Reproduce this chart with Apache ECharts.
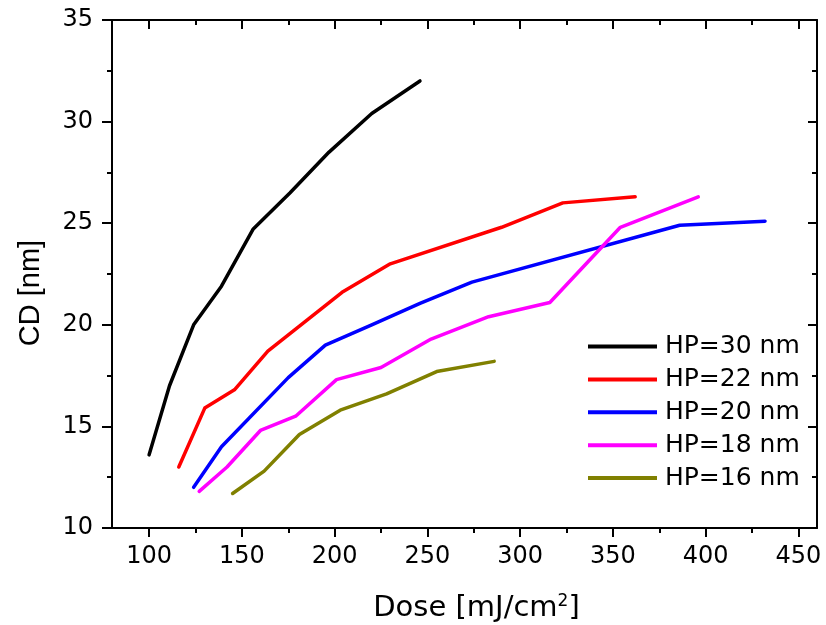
<!DOCTYPE html>
<html>
<head>
<meta charset="utf-8">
<script src="https://cdn.jsdelivr.net/npm/echarts@6/dist/echarts.min.js"></script>
<style>html,body{margin:0;padding:0;background:#fff;}#chart{width:826px;height:625px;}</style>
</head>
<body>
<div id="chart"></div>
<script>
// ---- data ----
const seriesNames = ['HP=30 nm', 'HP=22 nm', 'HP=20 nm', 'HP=18 nm', 'HP=16 nm'];
const doseHP30 = [100, 111, 124, 139, 156, 176, 197, 220, 246];
const cdHP30   = [13.6, 17.0, 20.0, 21.9, 24.7, 26.5, 28.5, 30.4, 32.0];
const doseHP22 = [116, 130, 146, 164, 204, 230, 290, 323, 362];
const cdHP22   = [13.0, 15.9, 16.8, 18.7, 21.6, 23.0, 24.8, 26.0, 26.3];
const doseHP20 = [124, 139, 175, 195, 220, 246, 274, 386, 432];
const cdHP20   = [12.0, 14.0, 17.4, 19.0, 20.0, 21.05, 22.1, 24.9, 25.1];
const doseHP18 = [127, 142, 160, 179, 201, 225, 252, 283, 316, 354, 396];
const cdHP18   = [11.8, 13.0, 14.8, 15.5, 17.3, 17.9, 19.3, 20.4, 21.1, 24.8, 26.3];
const doseHP16 = [145, 162, 181, 203, 228, 255, 286];
const cdHP16   = [11.7, 12.8, 14.6, 15.8, 16.6, 17.7, 18.2];
const xMajorTicks = [100, 150, 200, 250, 300, 350, 400, 450];
const xMinorTicks = [125, 175, 225, 275, 325, 375, 425];
const colors = ['#000000', '#ff0000', '#0000ff', '#ff00ff', '#808000'];

const doses = [doseHP30, doseHP22, doseHP20, doseHP18, doseHP16];
const cds = [cdHP30, cdHP22, cdHP20, cdHP18, cdHP16];

const X_MIN = 80, X_MAX = 460, Y_MIN = 10, Y_MAX = 35;
const FONT = 'DejaVu Sans';
const gridPos = {left: 112, right: 9, top: 20, bottom: 97, containLabel: false, outerBoundsMode: 'none'};
const axisLineStyle = {color: '#000', width: 2};

const chart = echarts.init(document.getElementById('chart'), null, {renderer: 'canvas'});

const series = seriesNames.map((name, i) => ({
  name: name,
  type: 'line',
  xAxisIndex: 0,
  yAxisIndex: 0,
  symbol: 'none',
  smooth: false,
  animation: false,
  lineStyle: {color: colors[i], width: 3.5, join: 'round', cap: 'round'},
  itemStyle: {color: colors[i]},
  data: doses[i].map((d, k) => [d, cds[i][k]])
}));

const option = {
  backgroundColor: '#fff',
  animation: false,
  grid: [
    Object.assign({}, gridPos),
    Object.assign({}, gridPos)
  ],
  xAxis: [
    { // main bottom axis
      type: 'value', gridIndex: 0, position: 'bottom', min: X_MIN, max: X_MAX,
      axisLine: {show: true, lineStyle: axisLineStyle},
      axisTick: {show: true, inside: false, length: 9, lineStyle: axisLineStyle, customValues: xMajorTicks},
      axisLabel: {show: true, margin: 17, fontSize: 24, fontFamily: FONT, color: '#000', customValues: xMajorTicks},
      splitLine: {show: false},
      name: 'Dose [mJ/cm{sup|2}]',
      nameLocation: 'middle',
      nameGap: 65,
      nameTextStyle: {
        fontSize: 29, fontFamily: FONT, color: '#000', padding: [0, 0, 0, 24],
        rich: {sup: {fontSize: 17, fontFamily: FONT, color: '#000', verticalAlign: 'top', padding: [0, 0, 14, 0]}}
      }
    },
    { // top frame axis
      type: 'value', gridIndex: 0, position: 'top', min: X_MIN, max: X_MAX,
      axisLine: {show: true, lineStyle: axisLineStyle},
      axisTick: {show: true, inside: true, length: 9, lineStyle: axisLineStyle, customValues: xMajorTicks},
      axisLabel: {show: false},
      splitLine: {show: false}
    },
    { // bottom minor ticks
      type: 'value', gridIndex: 1, position: 'bottom', min: X_MIN, max: X_MAX,
      axisLine: {show: false},
      axisTick: {show: true, inside: false, length: 5, lineStyle: axisLineStyle, customValues: xMinorTicks},
      axisLabel: {show: false},
      splitLine: {show: false}
    },
    { // top minor ticks
      type: 'value', gridIndex: 1, position: 'top', min: X_MIN, max: X_MAX,
      axisLine: {show: false},
      axisTick: {show: true, inside: true, length: 5, lineStyle: axisLineStyle, customValues: xMinorTicks},
      axisLabel: {show: false},
      splitLine: {show: false}
    }
  ],
  yAxis: [
    {
      type: 'value', gridIndex: 0, position: 'left', min: Y_MIN, max: Y_MAX, interval: 5,
      axisLine: {show: true, lineStyle: axisLineStyle},
      axisTick: {show: true, inside: false, length: 10, lineStyle: axisLineStyle},
      minorTick: {show: true, splitNumber: 2, length: 5, lineStyle: axisLineStyle},
      axisLabel: {show: true, margin: 19, fontSize: 24, fontFamily: FONT, color: '#000'},
      splitLine: {show: false}, minorSplitLine: {show: false}
    },
    {
      type: 'value', gridIndex: 0, position: 'right', min: Y_MIN, max: Y_MAX, interval: 5,
      axisLine: {show: true, lineStyle: axisLineStyle},
      axisTick: {show: true, inside: true, length: 9, lineStyle: axisLineStyle},
      minorTick: {show: false},
      axisLabel: {show: false},
      splitLine: {show: false}
    },
    { // right minor ticks (inside)
      type: 'value', gridIndex: 1, position: 'right', min: Y_MIN, max: Y_MAX, interval: 2.5,
      axisLine: {show: false},
      axisTick: {show: true, inside: true, length: 5, lineStyle: axisLineStyle},
      axisLabel: {show: false},
      splitLine: {show: false}
    }
  ],
  legend: {
    orient: 'vertical',
    left: 588,
    top: 334,
    padding: 0,
    icon: 'rect',
    itemWidth: 69,
    itemHeight: 4,
    itemGap: 7.9,
    data: seriesNames,
    textStyle: {fontSize: 25, fontFamily: FONT, color: '#000', padding: [0, 0, 0, 3]}
  },
  graphic: [
    {
      type: 'text',
      x: 31, y: 293,
      rotation: Math.PI / 2,
      style: {
        text: 'CD [nm]',
        fontSize: 29,
        fontFamily: 'Liberation Sans',
        fill: '#000',
        align: 'center',
        verticalAlign: 'middle'
      }
    }
  ],
  series: series
};

chart.setOption(option);
</script>
</body>
</html>
